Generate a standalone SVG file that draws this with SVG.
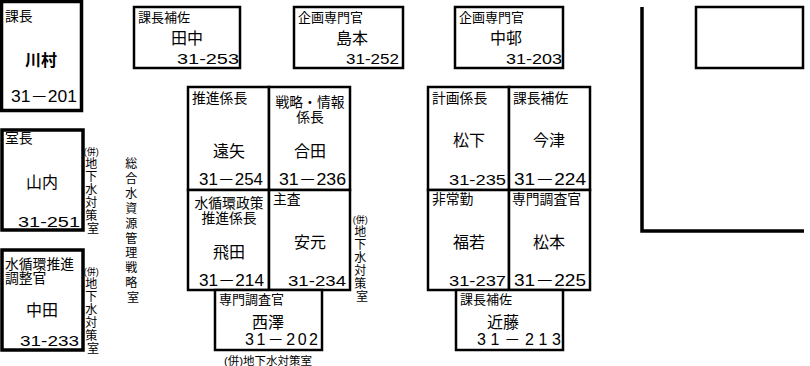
<svg xmlns="http://www.w3.org/2000/svg" width="810" height="366" viewBox="0 0 810 366">
<style>
text{font-family:"Liberation Sans","Noto Sans CJK JP",sans-serif;fill:#000}
.t{font-size:13px}
.tg{font-size:13.8px}
.n{font-size:16px;text-anchor:middle}
.p{font-size:16px;text-anchor:end}
.ps{font-size:14.5px;text-anchor:end}
.c{text-anchor:middle}
.v{font-size:12px;text-anchor:middle}
.b{fill:#fff;stroke:#000;stroke-width:2.5}
.bt{fill:#fff;stroke:#000;stroke-width:3.5}
</style>
<rect width="810" height="366" fill="#fff"/>

<g id="kacho">
<rect class="bt" x="1.5" y="1.5" width="80" height="109"/>
<text class="tg" x="5" y="21">課長</text>
<text class="n" x="41" y="66" font-weight="bold" font-size="17">川村</text>
<text class="p" x="77" y="102" textLength="66" lengthAdjust="spacingAndGlyphs">31－201</text>
</g>

<g id="tanaka">
<rect class="b" x="134" y="7" width="106" height="61"/>
<text class="t" x="138" y="22">課長補佐</text>
<text class="n" x="187" y="44">田中</text>
<text class="ps" x="239" y="64" textLength="62" lengthAdjust="spacingAndGlyphs">31-253</text>
</g>

<g id="shimamoto">
<rect class="b" x="294" y="7" width="109" height="61"/>
<text class="t" x="298" y="22">企画専門官</text>
<text class="n" x="352" y="44">島本</text>
<text class="ps" x="399" y="64" textLength="53" lengthAdjust="spacingAndGlyphs">31-252</text>
</g>

<g id="nakamura">
<rect class="b" x="455" y="7" width="108" height="61"/>
<text class="t" x="459" y="22">企画専門官</text>
<text class="n" x="506" y="44">中邨</text>
<text class="ps" x="562" y="64" textLength="56" lengthAdjust="spacingAndGlyphs">31-203</text>
</g>

<g id="room-right">
<path d="M642 7 V231 H804" fill="none" stroke="#000" stroke-width="3.5"/>
<rect class="b" x="696" y="7" width="107" height="61"/>
</g>

<g id="shitsucho">
<rect class="bt" x="2" y="130" width="81" height="100"/>
<text class="tg" x="5" y="143">室長</text>
<text class="n" x="42" y="188">山内</text>
<text class="ps" x="80" y="227" font-size="15" textLength="62" lengthAdjust="spacingAndGlyphs">31-251</text>
</g>

<g id="nakata">
<rect class="bt" x="2" y="250" width="81" height="100"/>
<text class="tg" x="5" y="269">水循環推進</text>
<text class="tg" x="5" y="283">調整官</text>
<text class="n" x="42" y="316">中田</text>
<text class="ps" x="79" y="346" font-size="15" textLength="59" lengthAdjust="spacingAndGlyphs">31-233</text>
</g>

<g id="labels-left">
<text class="v" x="93">
<tspan x="93" y="155" font-size="9">(併)</tspan>
<tspan x="93" y="168">地</tspan>
<tspan x="93" y="181">下</tspan>
<tspan x="93" y="194">水</tspan>
<tspan x="93" y="207">対</tspan>
<tspan x="93" y="220">策</tspan>
<tspan x="93" y="233">室</tspan>
</text>
<text class="v" x="93">
<tspan x="93" y="275" font-size="9">(併)</tspan>
<tspan x="93" y="288">地</tspan>
<tspan x="93" y="301">下</tspan>
<tspan x="93" y="314">水</tspan>
<tspan x="93" y="327">対</tspan>
<tspan x="93" y="340">策</tspan>
<tspan x="93" y="353">室</tspan>
</text>
<text class="v" x="133">
<tspan x="133" y="168">総</tspan>
<tspan x="133" y="183">合</tspan>
<tspan x="133" y="198">水</tspan>
<tspan x="133" y="212.5">資</tspan>
<tspan x="133" y="227.5">源</tspan>
<tspan x="133" y="242.5">管</tspan>
<tspan x="133" y="257">理</tspan>
<tspan x="133" y="272">戦</tspan>
<tspan x="133" y="287">略</tspan>
<tspan x="133" y="302">室</tspan>
</text>
</g>

<g id="toya">
<rect class="b" x="188" y="87" width="81" height="103"/>
<text class="tg" x="192" y="103">推進係長</text>
<text class="n" x="229" y="157">遠矢</text>
<text class="p" x="263" y="185" textLength="64" lengthAdjust="spacingAndGlyphs">31－254</text>
</g>
<g id="goda">
<rect class="b" x="269" y="87" width="81" height="103"/>
<text class="tg c" x="310" y="107">戦略・情報</text>
<text class="tg c" x="310" y="122">係長</text>
<text class="n" x="310" y="157">合田</text>
<text class="p" x="346" y="185" textLength="67" lengthAdjust="spacingAndGlyphs">31－236</text>
</g>
<g id="hida">
<rect class="b" x="188" y="190" width="81" height="100"/>
<text class="tg c" x="229" y="208">水循環政策</text>
<text class="tg c" x="229" y="223">推進係長</text>
<text class="n" x="229" y="258">飛田</text>
<text class="p" x="264" y="286" textLength="65" lengthAdjust="spacingAndGlyphs">31－214</text>
</g>
<g id="yasumoto">
<rect class="b" x="269" y="190" width="81" height="100"/>
<text class="tg" x="273" y="204">主査</text>
<text class="n" x="310" y="248">安元</text>
<text class="ps" x="346" y="286" font-size="15" textLength="58" lengthAdjust="spacingAndGlyphs">31-234</text>
</g>

<g id="label-mid">
<text class="v" x="362">
<tspan x="362" y="223" font-size="9">(併)</tspan>
<tspan x="362" y="236">地</tspan>
<tspan x="362" y="249">下</tspan>
<tspan x="362" y="262">水</tspan>
<tspan x="362" y="275">対</tspan>
<tspan x="362" y="288">策</tspan>
<tspan x="362" y="301">室</tspan>
</text>
</g>

<g id="nishizawa">
<rect class="b" x="215" y="290" width="107" height="60"/>
<text class="t" x="219" y="304">専門調査官</text>
<text class="n" x="268" y="328">西澤</text>
<text class="p" x="318" y="345" textLength="73" lengthAdjust="spacing">31－202</text>
<text x="268" y="365" font-size="11.5" text-anchor="middle">(併)地下水対策室</text>
</g>

<g id="matsushita">
<rect class="b" x="428" y="87" width="81" height="103"/>
<text class="tg" x="432" y="103">計画係長</text>
<text class="n" x="469" y="146">松下</text>
<text class="ps" x="506" y="185" font-size="15" textLength="57" lengthAdjust="spacingAndGlyphs">31-235</text>
</g>
<g id="imazu">
<rect class="b" x="509" y="87" width="81" height="103"/>
<text class="tg" x="513" y="103">課長補佐</text>
<text class="n" x="549" y="146">今津</text>
<text class="p" x="586" y="185" textLength="72" lengthAdjust="spacingAndGlyphs">31－224</text>
</g>
<g id="fukuwaka">
<rect class="b" x="428" y="190" width="81" height="100"/>
<text class="tg" x="432" y="204">非常勤</text>
<text class="n" x="469" y="248">福若</text>
<text class="ps" x="506" y="286" font-size="15" textLength="57" lengthAdjust="spacingAndGlyphs">31-237</text>
</g>
<g id="matsumoto">
<rect class="b" x="509" y="190" width="81" height="100"/>
<text class="tg" x="512" y="204">専門調査官</text>
<text class="n" x="549" y="248">松本</text>
<text class="p" x="586" y="286" textLength="72" lengthAdjust="spacingAndGlyphs">31－225</text>
</g>

<g id="kondo">
<rect class="b" x="456" y="290" width="107" height="60"/>
<text class="t" x="460" y="304">課長補佐</text>
<text class="n" x="503" y="328">近藤</text>
<text class="p" x="561" y="345" textLength="84" lengthAdjust="spacing">31－213</text>
</g>

<g id="connectors"></g>
</svg>
